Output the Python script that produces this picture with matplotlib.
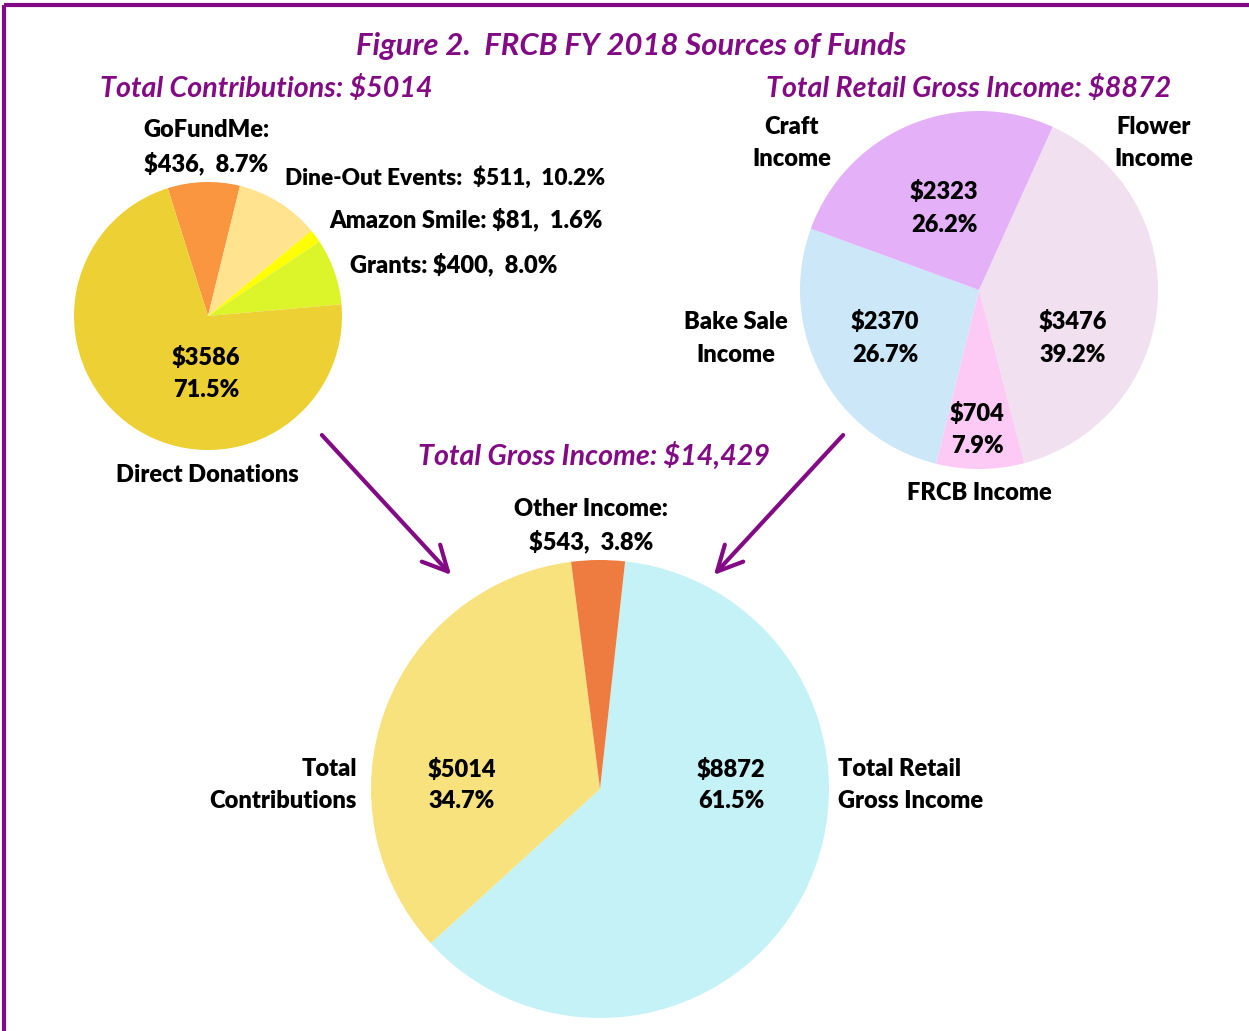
import matplotlib.pyplot as plt

W, H = 1249, 1031
PURPLE = '#820a84'
plt.rcParams['font.family'] = ['Lato', 'DejaVu Sans']

# Total contributions
contrib_total = 5014
contrib_labels = ['GoFundMe', 'Dine-Out Events', 'Amazon Smile', 'Grants', 'Direct Donations']
contrib_values = [436, 511, 81, 400, 3586]
contrib_pct = [8.7, 10.2, 1.6, 8.0, 71.5]
contrib_colors = ['#f9963f', '#ffe38f', '#ffff00', '#dbf52a', '#edd033']

# Total retail gross income
retail_total = 8872
retail_labels = ['Flower Income', 'FRCB Income', 'Bake Sale Income', 'Craft Income']
retail_values = [3476, 704, 2370, 2323]
retail_pct = [39.2, 7.9, 26.7, 26.2]
retail_colors = ['#f0e0f0', '#fccaf5', '#cce7f8', '#e4b0f8']

# Total gross income
gross_total = '14,429'
gross_labels = ['Total Retail Gross Income', 'Total Contributions', 'Other Income']
gross_values = [8872, 5014, 543]
gross_pct = [61.5, 34.7, 3.8]
gross_colors = ['#c5f2f7', '#f8e27e', '#ee7b3f']

fig = plt.figure(figsize=(W / 100, H / 100), dpi=100)
ax = fig.add_axes([0, 0, 1, 1])


def put(s, x, y, ha='center', size=17, color='black', style='normal', weight=800):
    # x, y in image pixels (y from top)
    ax.text(x, H - y, s, ha=ha, va='center', fontsize=size, color=color,
            fontweight=weight, fontstyle=style)


def head(s, x, y, ha='left', size=20.6):
    put(s, x, y, ha=ha, size=size, color=PURPLE, style='italic', weight=700)


ax.pie(contrib_values, colors=contrib_colors, startangle=107.5, counterclock=False,
       center=(208, H - 316), radius=134, wedgeprops=dict(linewidth=0))
ax.pie(retail_values, colors=retail_colors, startangle=65.7, counterclock=False,
       center=(979, H - 290), radius=179, wedgeprops=dict(linewidth=0))
ax.pie(gross_values, colors=gross_colors, startangle=83.7, counterclock=False,
       center=(600, H - 789), radius=229, wedgeprops=dict(linewidth=0))

ax.set_xlim(0, W)
ax.set_ylim(0, H)
ax.set_aspect('auto')
ax.axis('off')

# headings
head('Figure 2.  FRCB FY 2018 Sources of Funds', 631, 46, ha='center', size=22.3)
head(f'Total Contributions: ${contrib_total}', 100, 89)
head(f'Total Retail Gross Income: ${retail_total}', 766, 89)
head(f'Total Gross Income: ${gross_total}', 418, 456)

# contributions pie labels
put(contrib_labels[0] + ':', 206, 130)
put(f'${contrib_values[0]},  {contrib_pct[0]}%', 206, 163)
put(f'{contrib_labels[1]}:  ${contrib_values[1]},  {contrib_pct[1]}%', 285, 178, ha='left', size=16.3)
put(f'{contrib_labels[2]}: ${contrib_values[2]},  {contrib_pct[2]}%', 329, 219, ha='left')
put(f'{contrib_labels[3]}: ${contrib_values[3]},  {contrib_pct[3]}%', 350, 264, ha='left')
put(f'${contrib_values[4]}', 206, 357)
put(f'{contrib_pct[4]}%', 206, 390)
put(contrib_labels[4], 207, 475)

# retail pie labels
put('Flower', 1154, 127)
put('Income', 1154, 159)
put('Craft', 792, 127)
put('Income', 792, 159)
put('Bake Sale', 736, 322)
put('Income', 736, 355)
put(retail_labels[1], 979, 493)
for x, y, v, p in [(1073, 322, retail_values[0], retail_pct[0]),
                   (977, 413, retail_values[1], retail_pct[1]),
                   (885, 322, retail_values[2], retail_pct[2]),
                   (944, 192, retail_values[3], retail_pct[3])]:
    put(f'${v}', x, y)
    put(f'{p}%', x, y + 33)

# gross pie labels
put(gross_labels[2] + ':', 591, 509)
put(f'${gross_values[2]},  {gross_pct[2]}%', 591, 541)
put('Total', 357, 769, ha='right')
put('Contributions', 357, 801, ha='right')
put('Total Retail', 838, 769, ha='left')
put('Gross Income', 838, 801, ha='left')
for x, v, p in [(731, gross_values[0], gross_pct[0]), (462, gross_values[1], gross_pct[1])]:
    put(f'${v}', x, 769)
    put(f'{p}%', x, 801)

# arrows into the bottom pie
arrow = dict(arrowstyle='->', lw=3, color=PURPLE, mutation_scale=45)
ax.annotate('', xy=(453, H - 577), xytext=(320, H - 433), arrowprops=arrow)
ax.annotate('', xy=(712, H - 577), xytext=(845, H - 433), arrowprops=arrow)

# frame (top and left edges visible)
ax.plot([4, W], [H - 5, H - 5], color=PURPLE, lw=3, solid_capstyle='butt')
ax.plot([4, 4], [H - 5, 0], color=PURPLE, lw=3, solid_capstyle='butt')

fig.savefig('out.png', dpi=100)
